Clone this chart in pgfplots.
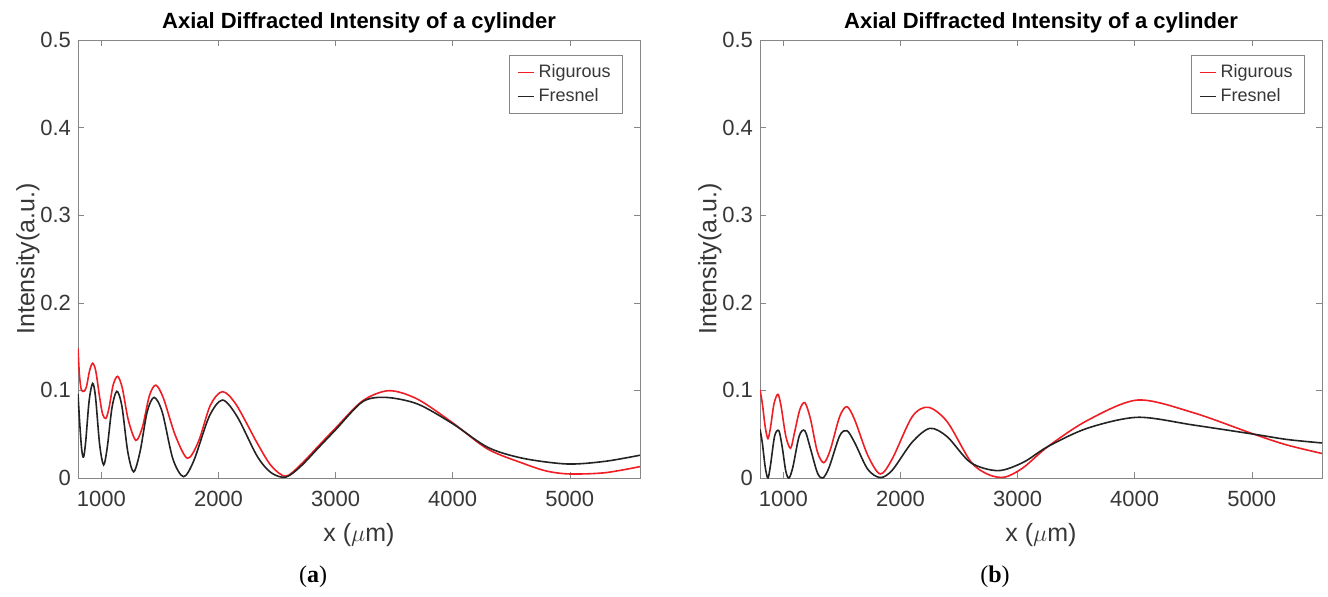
\documentclass[border=0pt]{standalone}
\usepackage{fontspec}
\setmainfont{Liberation Sans}
\newfontfamily\capfont{Liberation Serif}
\usepackage{pgfplots}
\pgfplotsset{compat=1.18}

\definecolor{rigred}{RGB}{238,30,36}
\definecolor{fresblack}{RGB}{35,35,35}
\definecolor{framegray}{RGB}{135,135,135}
\definecolor{labgray}{RGB}{55,55,55}

\pgfplotsset{
  legend image code/.code={\draw[#1] (7pt,0pt) -- (15pt,0pt);},
  diffr/.style={
    scale only axis, width=281pt, height=219pt,
    xmin=800, xmax=5600, ymin=0, ymax=0.5,
    xtick={1000,2000,3000,4000,5000},
    ytick={0,0.1,0.2,0.3,0.4,0.5},
    tick align=inside, major tick length=3pt,
    axis line style={framegray}, tick style={framegray},
    /pgf/number format/1000 sep={},
    /pgf/number format/assume math mode=true,
    ticklabel style={font=\fontsize{11}{13}\selectfont, text=labgray},
    xticklabel style={yshift=-3pt},
    xlabel={x ($\mu$m)}, ylabel={Intensity(a.u.)},
    every axis y label/.style={at={(axis description cs:-0.089,0.5)}, rotate=90, anchor=center,
      font=\fontsize{12.5}{15}\selectfont, text=labgray},
    every axis x label/.style={at={(axis description cs:0.5,-0.13)}, anchor=center,
      font=\fontsize{12.5}{15}\selectfont, text=labgray},
    title={Axial Diffracted Intensity of a cylinder},
    title style={font=\bfseries\fontsize{11}{13}\selectfont, at={(0.5,1)}, anchor=base, yshift=0pt},
    legend style={at={(0.97,0.966)}, anchor=north east, draw=framegray,
      font=\fontsize{9}{11}\selectfont, row sep=0pt, inner xsep=4pt, inner ysep=2.5pt},
    legend cell align=left,
  },
  rig/.style={color=rigred, line width=0.8pt, smooth},
  fre/.style={color=fresblack, line width=0.8pt, smooth},
}

\begin{document}
\begin{tikzpicture}
\path[use as bounding box] (-39pt,-59pt) rectangle (625pt,239pt);

\begin{axis}[diffr]
\addplot[rig] coordinates {(800,0.148)(812,0.118)(828,0.101)(850,0.099)(872,0.104)(898,0.122)(925,0.131)(952,0.122)(985,0.092)(1010,0.073)(1038,0.068)(1065,0.080)(1100,0.106)(1138,0.116)(1178,0.103)(1230,0.066)(1294,0.043)(1350,0.058)(1410,0.094)(1465,0.106)(1530,0.091)(1630,0.049)(1735,0.0225)(1830,0.042)(1930,0.083)(2034,0.0986)(2150,0.084)(2330,0.040)(2450,0.014)(2574,0.002)(2700,0.015)(2850,0.036)(3000,0.057)(3230,0.088)(3456,0.0997)(3700,0.090)(4000,0.063)(4300,0.033)(4600,0.0168)(4800,0.008)(5000,0.0046)(5300,0.006)(5600,0.013)};
\addlegendentry{\textcolor{labgray}{Rigurous}}
\addplot[fre] coordinates {(800,0.096)(815,0.062)(832,0.032)(848,0.024)(866,0.042)(895,0.088)(925,0.108)(950,0.092)(985,0.038)(1019,0.015)(1050,0.035)(1090,0.080)(1132,0.099)(1175,0.082)(1225,0.030)(1275,0.007)(1330,0.030)(1390,0.075)(1450,0.092)(1520,0.075)(1610,0.022)(1701,0.0015)(1790,0.020)(1920,0.070)(2034,0.089)(2160,0.070)(2330,0.025)(2450,0.006)(2574,0.001)(2700,0.013)(2850,0.034)(3000,0.055)(3230,0.087)(3430,0.092)(3700,0.0845)(4000,0.062)(4300,0.035)(4600,0.0225)(4978,0.016)(5300,0.019)(5600,0.026)};
\addlegendentry{\textcolor{labgray}{Fresnel}}
\end{axis}

\begin{axis}[diffr, at={(341pt,0pt)}]
\addplot[rig] coordinates {(800,0.1005)(820,0.085)(845,0.058)(868,0.045)(890,0.058)(920,0.085)(953,0.0955)(980,0.082)(1020,0.048)(1061,0.034)(1095,0.052)(1140,0.078)(1183,0.086)(1230,0.068)(1290,0.030)(1345,0.0175)(1400,0.032)(1480,0.070)(1543,0.0814)(1610,0.066)(1720,0.026)(1827,0.0046)(1930,0.022)(2100,0.070)(2238,0.0807)(2400,0.064)(2600,0.0187)(2750,0.004)(2891,0.001)(3050,0.012)(3260,0.036)(3600,0.066)(4026,0.089)(4500,0.0746)(5019,0.050)(5300,0.0377)(5600,0.028)};
\addlegendentry{\textcolor{labgray}{Rigurous}}
\addplot[fre] coordinates {(800,0.0556)(820,0.040)(845,0.012)(868,0.0)(890,0.015)(925,0.048)(961,0.054)(990,0.035)(1020,0.008)(1047,0.0)(1080,0.012)(1135,0.048)(1183,0.054)(1230,0.034)(1290,0.006)(1336,0.0)(1390,0.012)(1480,0.048)(1543,0.054)(1610,0.040)(1720,0.010)(1827,0.0005)(1930,0.009)(2100,0.041)(2252,0.0567)(2400,0.047)(2600,0.0175)(2834,0.0084)(3050,0.018)(3260,0.036)(3600,0.057)(4026,0.0693)(4500,0.0605)(5019,0.050)(5300,0.044)(5600,0.040)};
\addlegendentry{\textcolor{labgray}{Fresnel}}
\end{axis}

\node[font=\capfont\fontsize{12}{14}\selectfont] at (117.5pt,-49.5pt) {(\textbf{a})};
\node[font=\capfont\fontsize{12}{14}\selectfont] at (458.5pt,-49.5pt) {(\textbf{b})};
\end{tikzpicture}
\end{document}
